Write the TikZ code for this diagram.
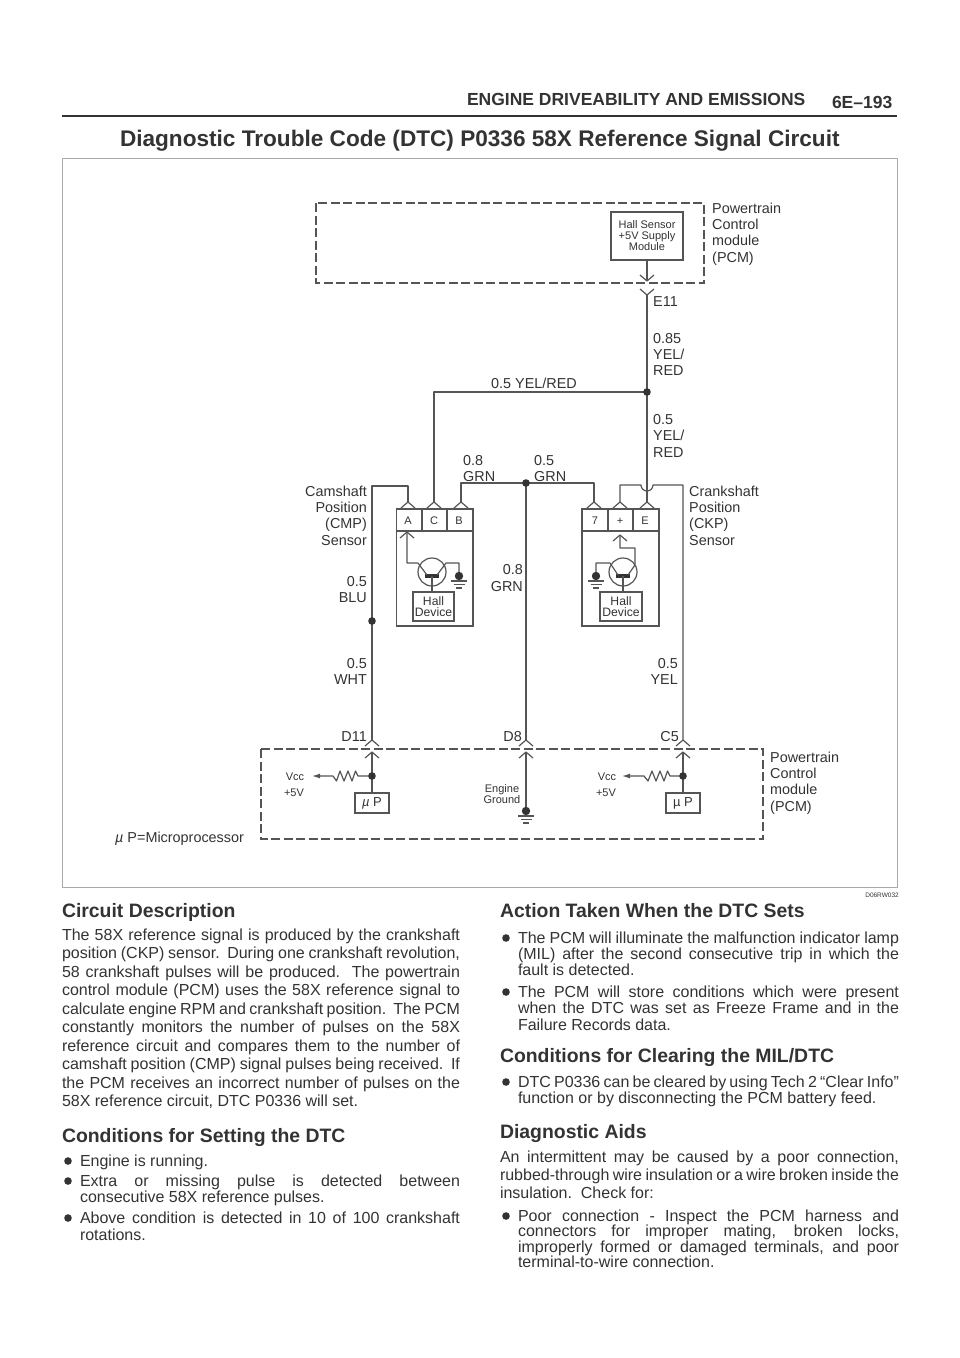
\documentclass[tikz,border=0pt]{standalone}
\usepackage{fontspec}
\setmainfont{Liberation Sans}
\usetikzlibrary{arrows.meta}
\definecolor{ink}{HTML}{333333}
\definecolor{wirec}{HTML}{555555}
\definecolor{framec}{HTML}{AAAAAA}
\newcounter{tn}
% plain text line: x, baseline y, size, text
\newcommand\Tx[4]{\stepcounter{tn}\node[txt,font=\fontsize{#3}{#3}\selectfont] (t\thetn) at (#1,#2) {#4};}
\newcommand\Bd[3]{\Tx{#1}{#2}{16}{#3}}
\newcommand\Ju[4]{\stepcounter{tn}\node[txt,font=\fontsize{16}{16}\selectfont] (t\thetn) at (#1,#2) {\makebox[#3pt][s]{#4}};}
\newcommand\Hd[3]{\Tx{#1}{#2}{19.4}{\textbf{#3}}}
\newcommand\Bu[2]{\stepcounter{tn}\node[bullet] (t\thetn) at (#1,#2) {};}
\newcommand\Lb[3]{\stepcounter{tn}\node[lab] (t\thetn) at (#1,#2) {#3};}
\newcommand\Lr[3]{\stepcounter{tn}\node[labr] (t\thetn) at (#1,#2) {#3};}
\newcommand\Up[1]{\draw[wire] ([shift={(-7,6)}]#1) -- (#1) -- ([shift={(7,6)}]#1);}
\newcommand\Dn[1]{\draw[wire] ([shift={(-7,-6)}]#1) -- (#1) -- ([shift={(7,-6)}]#1);}
\newcommand\Gnd[1]{\fill[wirec!60!black] (#1) circle (4.2);
  \draw[wire] ([shift={(-8,5)}]#1) -- ([shift={(8,5)}]#1);
  \draw[wire] ([shift={(-5.5,8.5)}]#1) -- ([shift={(5.5,8.5)}]#1);
  \draw[wire] ([shift={(-3,12)}]#1) -- ([shift={(3,12)}]#1);}
\newcommand\Dot[1]{\fill[wirec!60!black] (#1) circle (3.8);}
\begin{document}
\begin{tikzpicture}[x=1pt,y=-1pt,
  txt/.style={anchor=base west,inner sep=0pt,outer sep=0pt,text=ink},
  lab/.style={anchor=base west,inner sep=0pt,text=ink,font=\fontsize{14.4}{14.4}\selectfont},
  labr/.style={anchor=base east,inner sep=0pt,text=ink,font=\fontsize{14.4}{14.4}\selectfont},
  wire/.style={draw=wirec,line width=1.2pt,line join=round},
  dashbox/.style={draw=wirec,line width=1.1pt,dash pattern=on 9pt off 3.5pt},
  bx/.style={draw=wirec,line width=1.1pt,inner sep=0pt,align=center,text=ink},
  small/.style={font=\fontsize{11}{12.5}\selectfont},
  halltext/.style={font=\fontsize{12.2}{14}\selectfont},
  bullet/.style={circle,fill=ink,inner sep=0pt,minimum size=7.6pt},
  filltip/.style={-{Latex[length=8pt,width=5pt]}}
]
\useasboundingbox (0,0) rectangle (960,1358);
\fill[white] (0,0) rectangle (960,1358);

% page head
\Tx{467}{105}{17.5}{\textbf{ENGINE DRIVEABILITY AND EMISSIONS}}
\Tx{832}{108}{17.5}{\textbf{6E–193}}
\draw[draw=ink,line width=2pt] (62,116) -- (897,116);
\Tx{120}{146}{22.6}{\textbf{Diagnostic Trouble Code (DTC) P0336 58X Reference Signal Circuit}}
\draw[draw=framec,line width=0.8pt] (62,158) rectangle (897,887);
\stepcounter{tn}\node[anchor=base east,inner sep=0pt,text=ink,font=\fontsize{6.5}{6.5}\selectfont] (t\thetn) at (899,897) {D06RW032};

% upper PCM
\draw[dashbox] (316,203) rectangle (704,283);
\node[bx,small,minimum width=72pt,minimum height=48pt] (hall) at (647,236) {Hall Sensor\\[-1.5pt]+5V Supply\\[-1.5pt]Module};
\coordinate (topV) at (647,281);
\coordinate (e11V) at (647,295);
\coordinate (jA) at (647,392);
\coordinate (chevE) at (647,502);
\coordinate (chevC) at (434,502);
\coordinate (cornC) at (434,392);
\draw[wire] (hall.south) -- (topV);
\Dn{topV}
\Dn{e11V}
\draw[wire] (e11V) -- (jA) -- (chevE);
\draw[wire] (jA) -- (cornC) -- (chevC);
\Dot{jA}
\Lb{712}{213}{Powertrain}
\Lb{712}{229}{Control}
\Lb{712}{245}{module}
\Lb{712}{262}{(PCM)}
\Lb{653}{306}{E11}
\Lb{653}{343}{0.85}
\Lb{653}{359}{YEL/}
\Lb{653}{375}{RED}
\Lb{491}{388}{0.5 YEL/RED}
\Lb{653}{424}{0.5}
\Lb{653}{440}{YEL/}
\Lb{653}{457}{RED}
\Lb{463}{465}{0.8}
\Lb{463}{481}{GRN}
\Lb{534}{465}{0.5}
\Lb{534}{481}{GRN}

% CMP sensor
\node[bx,minimum width=76.5pt,minimum height=117pt] (cmp) at (434.75,567.5) {};
\draw[wire] (396.5,531) -- (473,531);
\draw[wire] (422,509) -- (422,531);
\draw[wire] (447,509) -- (447,531);
\coordinate (chevA) at (408,502);
\coordinate (chevB) at (461,502);
\coordinate (jG) at (526,483);
\coordinate (j5) at (372,621);
\coordinate (d11u) at (372,740);
\coordinate (d11l) at (372,752);
\draw[wire] (chevA) -- (408,486) -- (372,486) -- (d11u);
\draw[wire] (chevB) -- (461,483) -- (jG);
\Up{chevA}\Up{chevC}\Up{chevB}
\Dot{j5}
\node[small,text=ink,inner sep=0pt] (la) at (408,521) {A};
\node[small,text=ink,inner sep=0pt] (lc) at (434,521) {C};
\node[small,text=ink,inner sep=0pt] (lb) at (459,521) {B};
\draw[wire] (432,572) circle (14);
\node[bx,halltext,minimum width=41pt,minimum height=29pt] (hallA) at (433.5,606.5) {Hall\\[-2.5pt]Device};
\draw[wirec!60!black,line width=4pt] (425,576) -- (439,576);
\draw[wire] (432,576) -- (hallA.north -| 432,0);
\coordinate (gndA) at (459,576);
\coordinate (upA) at (407,532);
\draw[wire] (upA) -- (407,563) -- (418,563) -- (427,575);
\draw[wire] (437,575) -- (446,563) -- (459,563) -- (gndA);
\Up{upA}
\Gnd{gndA}

% CKP sensor
\node[bx,minimum width=77pt,minimum height=117pt] (ckp) at (620.5,567.5) {};
\draw[wire] (582,531) -- (659,531);
\draw[wire] (608,509) -- (608,531);
\draw[wire] (633,509) -- (633,531);
\coordinate (chev7) at (594,502);
\coordinate (chevP) at (620,502);
\coordinate (c5u) at (683,740);
\coordinate (c5l) at (683,752);
\draw[wire] (jG) -- (594,483) -- (chev7);
\draw[wire] (chevP) -- (620,485) -- (641,485) arc[start angle=180,end angle=0,radius=6] -- (683,485) -- (c5u);
\Up{chev7}\Up{chevP}\Up{chevE}
\node[small,text=ink,inner sep=0pt] (l7) at (595,521) {7};
\node[small,text=ink,inner sep=0pt] (lp) at (620,521) {+};
\node[small,text=ink,inner sep=0pt] (le) at (645,521) {E};
\draw[wire] (623,572) circle (14);
\node[bx,halltext,minimum width=42pt,minimum height=29pt] (hallB) at (621,606.5) {Hall\\[-2.5pt]Device};
\draw[wirec!60!black,line width=4pt] (616,576) -- (630,576);
\draw[wire] (623,576) -- (hallB.north -| 623,0);
\coordinate (gndB) at (596,576);
\coordinate (upB) at (620,535);
\draw[wire] (upB) -- (620,548) -- (635,548) -- (635,565) -- (628,575);
\draw[wire] (618,575) -- (610,563) -- (596,563) -- (gndB);
\Up{upB}
\Gnd{gndB}

% centre wire
\coordinate (d8u) at (526,740);
\coordinate (d8l) at (526,752);
\draw[wire] (jG) -- (d8u);
\Dot{jG}

\Lr{367}{496}{Camshaft}
\Lr{367}{512}{Position}
\Lr{367}{528}{(CMP)}
\Lr{367}{545}{Sensor}
\Lr{367}{586}{0.5}
\Lr{367}{602}{BLU}
\Lr{367}{668}{0.5}
\Lr{367}{684}{WHT}
\Lr{523}{574}{0.8}
\Lr{523}{591}{GRN}
\Lb{689}{496}{Crankshaft}
\Lb{689}{512}{Position}
\Lb{689}{528}{(CKP)}
\Lb{689}{545}{Sensor}
\Lr{678}{668}{0.5}
\Lr{678}{684}{YEL}
\Lr{367}{741}{D11}
\Lr{522}{741}{D8}
\Lr{679}{741}{C5}

% lower PCM
\draw[dashbox] (261,749) rectangle (763,839);
\Up{d11u}\Up{d11l}\Up{d8u}\Up{d8l}\Up{c5u}\Up{c5l}
\node[bx,minimum width=34pt,minimum height=20pt,font=\fontsize{13}{13}\selectfont] (upl) at (372,803) {\textit{µ} P};
\node[bx,minimum width=34pt,minimum height=20pt,font=\fontsize{13}{13}\selectfont] (upr) at (683,803) {µ P};
\coordinate (j1) at (372,776);
\coordinate (j2) at (683,776);
\coordinate (vl) at (312,776);
\coordinate (vr) at (622,776);
\coordinate (gndC) at (526,811);
\draw[wire] (upl.north) -- (d11l);
\draw[wire] (upr.north) -- (c5l);
\draw[wire] (gndC) -- (d8l);
\draw[wire,filltip] (j1) -- (358,776) -- (355.5,771) -- (352,781) -- (348,771) -- (344,781) -- (340,771) -- (336.5,781) -- (333,776) -- (vl);
\draw[wire,filltip] (j2) -- (670,776) -- (667.5,771) -- (664,781) -- (660,771) -- (656,781) -- (652,771) -- (648,781) -- (644,776) -- (vr);
\Dot{j1}\Dot{j2}
\Gnd{gndC}
\stepcounter{tn}\node[small,text=ink,inner sep=0pt] (t\thetn) at (295,777) {Vcc};
\stepcounter{tn}\node[small,text=ink,inner sep=0pt] (t\thetn) at (294,793) {+5V};
\stepcounter{tn}\node[small,text=ink,inner sep=0pt] (t\thetn) at (607,777) {Vcc};
\stepcounter{tn}\node[small,text=ink,inner sep=0pt] (t\thetn) at (606,793) {+5V};
\stepcounter{tn}\node[small,text=ink,inner sep=0pt,align=center] (t\thetn) at (502,794) {Engine\\[-1pt]Ground};
\Lb{770}{762}{Powertrain}
\Lb{770}{778}{Control}
\Lb{770}{794}{module}
\Lb{770}{811}{(PCM)}
\Lb{115}{842}{\textit{µ} P=Microprocessor}

% left column
\Hd{62}{917}{Circuit Description}
\Ju{62}{940}{398}{The 58X reference signal is produced by the crankshaft}
\Ju{62}{958}{398}{position (CKP) sensor.\ \ During one crankshaft revolution,}
\Ju{62}{977}{398}{58 crankshaft pulses will be produced.\ \ The powertrain}
\Ju{62}{995}{398}{control module (PCM) uses the 58X reference signal to}
\Ju{62}{1014}{398}{calculate engine RPM and crankshaft position.\ \ The PCM}
\Ju{62}{1032}{398}{constantly monitors the number of pulses on the 58X}
\Ju{62}{1051}{398}{reference circuit and compares them to the number of}
\Ju{62}{1069}{398}{camshaft position (CMP) signal pulses being received.\ \ If}
\Ju{62}{1088}{398}{the PCM receives an incorrect number of pulses on the}
\Bd{62}{1106}{58X reference circuit, DTC P0336 will set.}
\Hd{62}{1142}{Conditions for Setting the DTC}
\Bu{68}{1161}
\Bd{80}{1166}{Engine is running.}
\Bu{68}{1181}
\Ju{80}{1186}{380}{Extra or missing pulse is detected between}
\Bd{80}{1202}{consecutive 58X reference pulses.}
\Bu{68}{1218}
\Ju{80}{1223}{380}{Above condition is detected in 10 of 100 crankshaft}
\Bd{80}{1240}{rotations.}

% right column
\Hd{500}{917}{Action Taken When the DTC Sets}
\Bu{506}{938}
\Ju{518}{943}{381}{The PCM will illuminate the malfunction indicator lamp}
\Ju{518}{959}{381}{(MIL) after the second consecutive trip in which the}
\Bd{518}{975}{fault is detected.}
\Bu{506}{992}
\Ju{518}{997}{381}{The PCM will store conditions which were present}
\Ju{518}{1013}{381}{when the DTC was set as Freeze Frame and in the}
\Bd{518}{1030}{Failure Records data.}
\Hd{500}{1062}{Conditions for Clearing the MIL/DTC}
\Bu{506}{1082}
\Ju{518}{1087}{381}{DTC P0336 can be cleared by using Tech 2 “Clear Info”}
\Bd{518}{1103}{function or by disconnecting the PCM battery feed.}
\Hd{500}{1138}{Diagnostic Aids}
\Ju{500}{1162}{399}{An intermittent may be caused by a poor connection,}
\Ju{500}{1180}{399}{rubbed-through wire insulation or a wire broken inside the}
\Bd{500}{1198}{insulation.\ \ Check for:}
\Bu{506}{1216}
\Ju{518}{1221}{381}{Poor connection - Inspect the PCM harness and}
\Ju{518}{1236}{381}{connectors for improper mating, broken locks,}
\Ju{518}{1252}{381}{improperly formed or damaged terminals, and poor}
\Bd{518}{1267}{terminal-to-wire connection.}
\end{tikzpicture}
\end{document}
